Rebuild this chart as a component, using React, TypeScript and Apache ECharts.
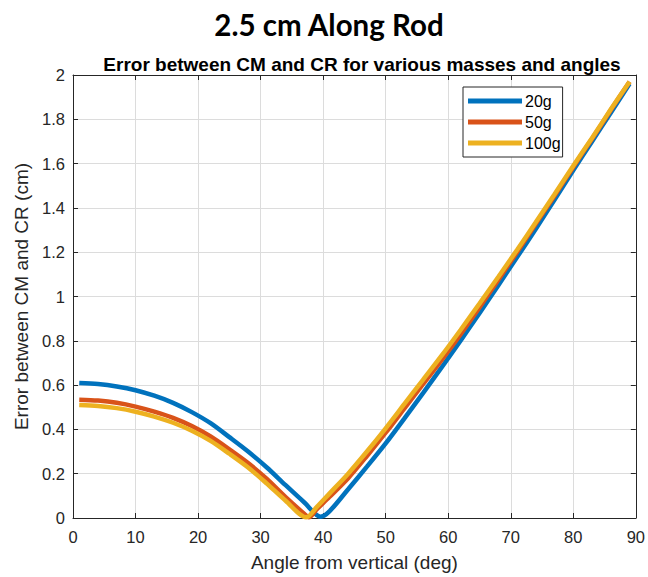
import React, { useEffect, useRef } from "react";
import * as echarts from "echarts";

const seriesNames = ["20g", "50g", "100g"];
const seriesColors = ["#0072BD", "#D95319", "#EDB120"];

const angles20 = [1, 4, 7, 10, 13, 16, 19, 22, 25, 28, 31, 34, 37, 39.6, 41, 44, 47, 50, 53, 56, 59, 62, 65, 68, 71, 74, 77, 80, 83, 86, 89];
const values20 = [0.61, 0.605, 0.594, 0.577, 0.552, 0.52, 0.478, 0.428, 0.365, 0.3, 0.228, 0.148, 0.07, 0.006, 0.03, 0.13, 0.232, 0.337, 0.45, 0.565, 0.682, 0.802, 0.925, 1.05, 1.177, 1.305, 1.437, 1.57, 1.7, 1.83, 1.96];

const angles50 = [1, 4, 7, 10, 13, 16, 19, 22, 25, 28, 31, 34, 37, 37.7, 39, 41, 44, 47, 50, 53, 56, 59, 62, 65, 68, 71, 74, 77, 80, 83, 86, 89];
const values50 = [0.534, 0.53, 0.52, 0.503, 0.48, 0.452, 0.415, 0.368, 0.31, 0.248, 0.176, 0.094, 0.018, 0.003, 0.04, 0.095, 0.18, 0.28, 0.385, 0.495, 0.605, 0.715, 0.83, 0.95, 1.075, 1.2, 1.328, 1.455, 1.585, 1.712, 1.842, 1.97];

const angles100 = [1, 4, 7, 10, 13, 16, 19, 22, 25, 28, 31, 34, 37.3, 39, 41, 44, 47, 50, 53, 56, 59, 62, 65, 68, 71, 74, 77, 80, 83, 86, 89];
const values100 = [0.51, 0.506, 0.496, 0.48, 0.458, 0.43, 0.394, 0.348, 0.29, 0.228, 0.155, 0.078, 0.003, 0.05, 0.11, 0.2, 0.3, 0.405, 0.515, 0.625, 0.735, 0.85, 0.968, 1.088, 1.21, 1.335, 1.462, 1.59, 1.716, 1.845, 1.97];

const xTicks = { min: 0, max: 90, interval: 10 };
const yTicks = { min: 0, max: 2, interval: 0.2 };

const titleText = "2.5 cm Along Rod";
const subtitleText = "Error between CM and CR for various masses and angles";
const xLabel = "Angle from vertical (deg)";
const yLabel = "Error between CM and CR (cm)";

export default function App() {
  const ref = useRef<HTMLDivElement>(null);
  useEffect(() => {
    if (!ref.current) return;
    const chart = echarts.init(ref.current, null, { renderer: "svg" });
    const pairs = [
      angles20.map((a, i) => [a, values20[i]]),
      angles50.map((a, i) => [a, values50[i]]),
      angles100.map((a, i) => [a, values100[i]]),
    ];
    const axisColor = "#262626";
    const font = "'Liberation Sans', Arial, sans-serif";
    const baseX = {
      type: "value",
      min: xTicks.min,
      max: xTicks.max,
      interval: xTicks.interval,
      axisLine: { show: true, onZero: false, lineStyle: { color: axisColor, width: 1 } },
      axisTick: { show: true, inside: true, length: 5, lineStyle: { color: axisColor } },
    };
    const baseY = {
      type: "value",
      min: yTicks.min,
      max: yTicks.max,
      interval: yTicks.interval,
      axisLine: { show: true, onZero: false, lineStyle: { color: axisColor, width: 1 } },
      axisTick: { show: true, inside: true, length: 5, lineStyle: { color: axisColor } },
    };
    chart.setOption({
      animation: false,
      backgroundColor: "#ffffff",
      title: [
        {
          text: titleText,
          left: 324,
          top: 4,
          textAlign: "center",
          textStyle: { fontFamily: "Lato, 'Open Sans', sans-serif", fontWeight: "bold", fontSize: 29.5, color: "#000" },
        },
        {
          text: subtitleText,
          left: 357,
          top: 50,
          textAlign: "center",
          textStyle: { fontFamily: font, fontWeight: "bold", fontSize: 19, color: "#000" },
        },
      ],
      legend: {
        orient: "vertical",
        left: 463,
        top: 87,
        data: seriesNames,
        icon: "rect",
        itemWidth: 54,
        itemHeight: 5,
        itemGap: 5,
        padding: [6, 2, 6, 5],
        borderColor: axisColor,
        borderWidth: 1,
        backgroundColor: "#fff",
        textStyle: { fontFamily: font, fontSize: 16, color: "#000", padding: [0, 0, 0, -2] },
      },
      grid: { left: 73, right: 11, top: 75, bottom: 56, containLabel: false },
      xAxis: [
        {
          ...baseX,
          position: "bottom",
          name: xLabel,
          nameLocation: "middle",
          nameGap: 35,
          nameTextStyle: { fontFamily: font, fontSize: 19, color: axisColor },
          axisLabel: { fontFamily: font, fontSize: 16.5, color: axisColor, margin: 10 },
          splitLine: { show: true, lineStyle: { color: "#dcdcdc", width: 1 } },
        },
        {
          ...baseX,
          position: "top",
          axisLabel: { show: false },
          splitLine: { show: false },
        },
      ],
      yAxis: [
        {
          ...baseY,
          position: "left",
          name: yLabel,
          nameLocation: "middle",
          nameGap: 40,
          nameTextStyle: { fontFamily: font, fontSize: 19, color: axisColor },
          axisLabel: { fontFamily: font, fontSize: 16.5, color: axisColor, margin: 8 },
          splitLine: { show: true, lineStyle: { color: "#dcdcdc", width: 1 } },
        },
        {
          ...baseY,
          position: "right",
          axisLabel: { show: false },
          splitLine: { show: false },
        },
      ],
      series: seriesNames.map((name, i) => ({
        name,
        type: "line",
        data: pairs[i],
        xAxisIndex: 0,
        yAxisIndex: 0,
        showSymbol: false,
        smooth: 0.3,
        clip: false,
        color: seriesColors[i],
        lineStyle: { width: 4.5, color: seriesColors[i] },
        itemStyle: { color: seriesColors[i] },
      })),
    });
    return () => chart.dispose();
  }, []);
  return <div ref={ref} style={{ width: 648, height: 577, position: "absolute", left: 0, top: 0 }} />;
}
